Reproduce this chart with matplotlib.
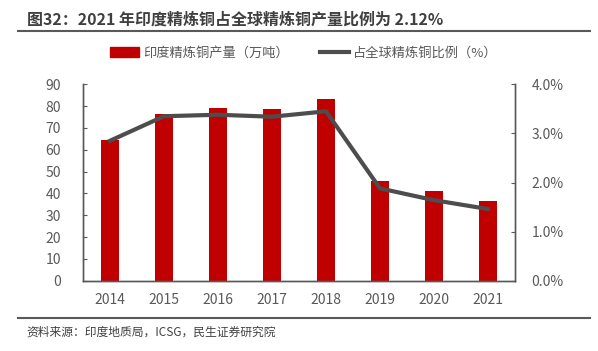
import matplotlib
matplotlib.use("Agg")
import matplotlib.pyplot as plt
from matplotlib.lines import Line2D
from matplotlib.patches import Patch

plt.rcParams['font.family'] = ['Noto Sans CJK SC', 'DejaVu Sans']

years = ['2014', '2015', '2016', '2017', '2018', '2019', '2020', '2021']
output = [64.4, 76.6, 79.2, 78.9, 83.1, 45.5, 41.0, 36.4]      # 万吨
share = [2.85, 3.35, 3.38, 3.34, 3.45, 1.88, 1.64, 1.46]       # %

bar_color = '#C00000'
line_color = '#4D4D4D'
txt_color = '#595959'

fig = plt.figure(figsize=(5.98, 3.51), dpi=100)
ax = fig.add_axes([0.1388, 0.2003, 0.7224, 0.5595])
ax2 = ax.twinx()

x = range(len(years))
ax.bar(x, output, width=0.34, color=bar_color, zorder=2)
ax2.plot(x, share, color=line_color, lw=3, zorder=3)

ax.set_xlim(-0.5, len(years) - 0.5)
ax.set_ylim(0, 90)
ax.set_yticks(range(0, 91, 10))
ax2.set_ylim(0, 4)
ax2.set_yticks([0, 1, 2, 3, 4])
ax2.set_yticklabels([f'{v:.1f}%' for v in [0, 1, 2, 3, 4]])
ax.set_xticks(list(x))
ax.set_xticklabels(years)

for a in (ax, ax2):
    a.spines['top'].set_visible(False)
    for s in ('left', 'right', 'bottom'):
        a.spines[s].set_color('#595959')
        a.spines[s].set_linewidth(1)
    a.tick_params(axis='y', direction='in', length=3, color='#595959',
                  labelsize=10, labelcolor=txt_color)
    a.tick_params(axis='x', length=0, labelsize=10, labelcolor=txt_color, pad=9)
ax.tick_params(axis='y', pad=16)
ax2.tick_params(axis='y', pad=12)
ax.set_zorder(ax2.get_zorder() - 1)
ax2.patch.set_visible(False)

handles = [Patch(color=bar_color), Line2D([], [], color=line_color, lw=3)]
labels = ['印度精炼铜产量（万吨）', '占全球精炼铜比例（%）']
fig.legend(handles, labels, loc='center', bbox_to_anchor=(0.508, 0.849), ncol=2,
           frameon=False, fontsize=9.5, labelcolor=txt_color, handlelength=2.2,
           handleheight=0.8, handletextpad=0.3, columnspacing=2.4)

fig.text(0.045, 0.943, '图32：2021 年印度精炼铜占全球精炼铜产量比例为 2.12%',
         fontsize=11.5, fontweight='bold', color='#404040', va='center')
fig.add_artist(Line2D([0.03, 0.987], [0.911, 0.911], color='#595959', lw=1.5))
fig.add_artist(Line2D([0.03, 0.987], [0.094, 0.094], color='#595959', lw=1.5))
fig.text(0.045, 0.055, '资料来源：印度地质局，ICSG，民生证券研究院',
         fontsize=8.5, color='#404040', va='center')

fig.savefig('out.png', dpi=100)
